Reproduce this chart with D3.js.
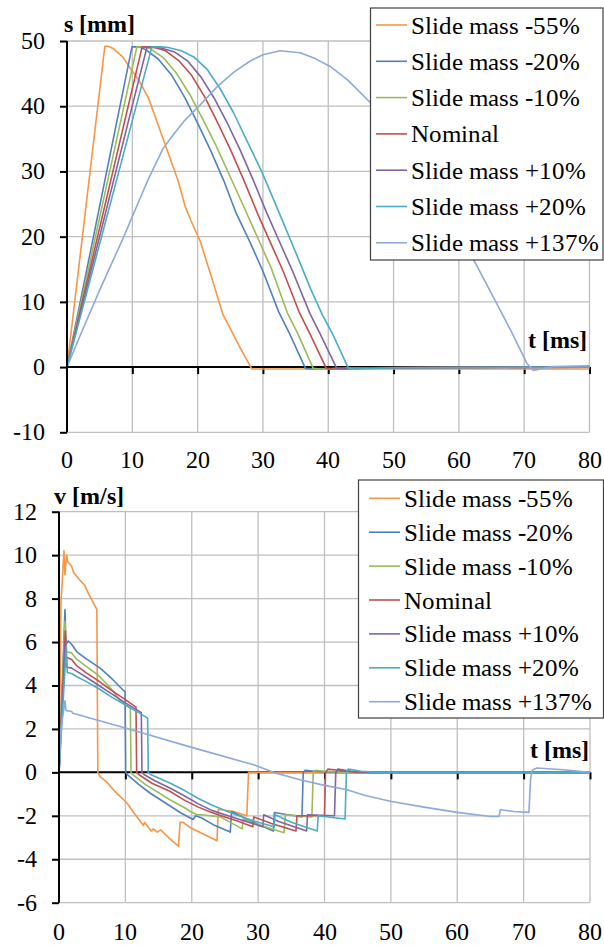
<!DOCTYPE html>
<html>
<head>
<meta charset="utf-8">
<script src="https://cdn.jsdelivr.net/npm/d3@7"></script>
<style>
  @font-face { font-family: "ChartSerif"; font-weight: 400; src: local("Liberation Serif"), local("LiberationSerif"), local("LiberationSerif-Regular"); }
  @font-face { font-family: "ChartSerif"; font-weight: 700; src: local("Liberation Serif Bold"), local("LiberationSerif-Bold"); }
  body { margin: 0; background: #fff; }
  svg { display: block; font-family: "ChartSerif", "Times New Roman", "Liberation Serif", serif; }
</style>
</head>
<body>
<svg id="chart" width="604" height="945"></svg>
<script>
// ---- tick labels ----
const tTicks = [0, 10, 20, 30, 40, 50, 60, 70, 80];
const sTicks = [-10, 0, 10, 20, 30, 40, 50];
const vTicks = [-6, -4, -2, 0, 2, 4, 6, 8, 10, 12];

// ---- series names (legend order) ----
const seriesNames = ["Slide mass -55%", "Slide mass -20%", "Slide mass -10%", "Nominal",
                     "Slide mass +10%", "Slide mass +20%", "Slide mass +137%"];

// ---- displacement s [mm] vs t [ms] ----
const sM55 = [[0,0],[5.8,49.2],[6.3,49.2],[7,48.9],[8.5,47.6],[9.5,46.1],[11,44],[12.5,41.2],[14,37],[15,34.2],[16,31.4],[17,28.6],[18.1,24.6],[19,22.4],[20.4,19.3],[22,14.2],[23.9,8],[25,5.9],[26.5,3],[28.3,-0.3],[80,-0.3]];
const sM20 = [[0,0],[9.95,49.1],[11,49.1],[12,48.7],[14,47.2],[16,44.8],[18,41.4],[20,37.4],[22,33.2],[24,28.6],[25.9,23.6],[28,19.2],[30,14.7],[32.4,8.5],[34,5.3],[36.5,-0.2],[37.5,-0.3],[45,-0.1],[80,0]];
const sM10 = [[0,0],[10.7,49.1],[11.8,49.1],[12.8,48.8],[14.8,47.4],[16.8,45.0],[18.8,41.8],[20.8,38.0],[22.8,34.0],[24.8,29.6],[27.6,23.4],[29.3,19.6],[31.3,15.1],[33.7,8.4],[35.3,5.2],[37.7,-0.2],[38.7,-0.3],[46,-0.1],[80,0]];
const sNom = [[0,0],[11.5,49.1],[12.8,49.1],[13.8,48.9],[15.1,48.5],[17.1,47.0],[19.1,44.7],[21.1,41.4],[23.1,37.4],[25.1,33.2],[27.1,28.6],[29.2,23.5],[31.1,19.2],[33.1,14.7],[35.6,8.3],[37.2,5.1],[39.7,-0.2],[40.7,-0.3],[47,-0.1],[80,0]];
const sP10 = [[0,0],[12.25,49.1],[13.5,49.1],[14.5,48.9],[16.5,48.3],[18.5,46.9],[20.5,44.5],[22.5,41.3],[24.5,37.5],[26.5,33.3],[28.5,28.7],[30.6,23.6],[32.5,19.3],[34.5,14.8],[37.2,8.2],[38.7,5.2],[41.3,-0.2],[42.3,-0.3],[48,-0.1],[80,0]];
const sP20 = [[0,0],[13.0,49.1],[14.5,49.1],[15.5,49.0],[17.5,48.5],[19.5,47.5],[21.5,45.6],[23.5,42.6],[25.5,39.0],[27.5,34.8],[29.8,30.0],[31.8,25.3],[32.5,23.6],[35.3,16.9],[37.3,12.0],[39.1,8.0],[40.7,5.0],[43.1,-0.2],[44.1,-0.3],[50,-0.1],[80,0]];
const sP137 = [[0,0],[2,4.8],[5,11.8],[8.7,20],[10.9,25.2],[12.4,28.7],[14.7,33.5],[16.1,35.4],[18,37.8],[20.4,40.2],[23,43],[25.5,45.2],[28,46.9],[30,47.9],[32.6,48.5],[35.7,48.2],[38,47.3],[40.3,46.1],[43,44],[46.4,40.6],[50,36],[54,30.5],[57,25.8],[60,20.5],[62.5,16],[65.5,10.3],[68,5.5],[70.4,0.6],[71.4,-0.5],[72.5,-0.3],[74.5,0.1],[80,0.2]];

// ---- velocity v [m/s] vs t [ms] ----
const vM55 = [[0,0],[0.3,7.8],[0.75,10.2],[0.9,9.1],[1.15,10.0],[1.3,9.7],[1.9,9.5],[2.2,9.2],[3.0,8.9],[3.9,8.6],[4.4,8.25],[5.7,7.5],[5.85,0],[6.2,-0.2],[7.2,-0.45],[8.5,-0.9],[10.2,-1.4],[11.5,-1.95],[12.5,-2.35],[12.7,-2.45],[12.9,-2.3],[13.5,-2.55],[13.9,-2.7],[14.2,-2.6],[14.8,-2.75],[15.3,-2.65],[16.5,-3.0],[18.0,-3.4],[18.25,-2.3],[18.7,-2.3],[19.8,-2.55],[21.5,-2.8],[23.8,-3.15],[24.0,-1.7],[26.3,-1.8],[28.3,-2.0],[28.55,0],[80,0]];
const vM20 = [[0,0],[0.9,7.5],[1.05,5.9],[1.4,6.05],[1.9,5.9],[2.7,5.55],[4,5.25],[6.2,4.8],[8,4.3],[9.95,3.7],[10.05,0],[10.3,-0.1],[12,-0.55],[13.7,-0.95],[16.8,-1.56],[18.3,-1.86],[20.2,-2.17],[20.6,-2.0],[21.5,-2.1],[23.5,-2.45],[25.8,-2.75],[26.0,-1.8],[28,-2.1],[30,-2.4],[32.3,-2.7],[32.45,-1.85],[34.5,-1.95],[36.6,-2.05],[36.8,0],[37.1,0.1],[38.5,0.05],[42,0],[80,0]];
const vM10 = [[0,0],[0.9,6.95],[1.1,5.55],[1.9,5.5],[2.7,5.2],[4,4.9],[6,4.45],[8,3.8],[9.2,3.3],[10.75,2.95],[10.85,0],[11.1,-0.1],[13,-0.55],[16.7,-1.26],[19,-1.64],[19.8,-1.8],[20.8,-1.95],[21.5,-1.95],[24.3,-2.05],[27.6,-2.6],[27.75,-2.15],[30,-2.4],[33.9,-2.78],[34.1,-1.95],[38.1,-2.05],[38.3,0],[38.6,0.1],[40,0.05],[43,0],[80,0]];
const vNom = [[0,0],[0.95,6.5],[1.1,5.3],[1.9,5.2],[2.7,4.9],[4,4.6],[6,4.2],[8,3.75],[10,3.35],[11.6,3.0],[11.7,0],[12.0,-0.1],[14,-0.5],[16.7,-0.87],[19,-1.3],[21,-1.6],[23,-1.85],[25,-2.05],[27,-2.25],[29.2,-2.5],[29.35,-2.05],[32,-2.35],[35.7,-2.7],[35.85,-2.0],[40.0,-2.0],[40.15,0],[40.5,0.15],[42,0.1],[45,0],[80,0]];
const vP10 = [[0,0],[1.0,6.1],[1.15,4.85],[1.9,4.8],[2.7,4.65],[4,4.4],[6,4.0],[8,3.6],[10,3.2],[12.4,2.75],[12.5,0],[12.8,-0.1],[14.5,-0.4],[16.7,-0.72],[19,-1.1],[21,-1.45],[23,-1.75],[25,-1.95],[27,-2.15],[30.7,-2.5],[30.85,-1.95],[33,-2.25],[37.3,-2.7],[37.45,-1.95],[41.5,-2.0],[41.7,0],[42,0.15],[44,0.05],[47,0],[80,0]];
const vP20 = [[0,0],[1.1,5.8],[1.25,4.6],[1.9,4.55],[2.7,4.4],[4,4.2],[6,3.85],[8,3.45],[10,3.1],[12,2.75],[13.35,2.5],[13.45,0],[13.8,-0.1],[16.7,-0.49],[19,-0.85],[21,-1.2],[23,-1.5],[25,-1.75],[28,-2.1],[30,-2.3],[32.4,-2.5],[32.55,-1.95],[35,-2.3],[38.9,-2.7],[39.05,-2.0],[43.1,-2.15],[43.3,0],[43.6,0.15],[45.5,0.05],[48,0],[80,0]];
const vP137 = [[0,0],[0.3,2.0],[0.9,3.3],[1.05,2.85],[1.9,2.8],[2.1,2.72],[10,2.04],[20,1.15],[29.3,0.35],[32.3,0],[36.3,-0.34],[40,-0.6],[43.4,-0.8],[46,-1.05],[49.9,-1.33],[55,-1.6],[60,-1.84],[65,-2.03],[66.3,-2.03],[66.5,-1.72],[68.5,-1.8],[70.8,-1.84],[71.05,-0.3],[71.3,0.1],[72,0.2],[76,0.12],[80,0]];

const sSeries = [sM55, sM20, sM10, sNom, sP10, sP20, sP137];
const vSeries = [vM55, vM20, vM10, vNom, vP10, vP20, vP137];

// line colours per series
const palette = ["#F79646", "#4F81BD", "#9BBB59", "#C0504D", "#8064A2", "#4BACC6", "#8EA9DB"];

const svg = d3.select("#chart");

function drawPanel(cfg) {
  const g = svg.append("g");
  const x = d3.scaleLinear().domain([0, 80]).range([cfg.left, cfg.right]);
  const y = d3.scaleLinear().domain(cfg.yDomain).range([cfg.bottom, cfg.top]);

  // gridlines
  g.append("g").selectAll("line").data(tTicks).join("line")
    .attr("x1", d => x(d)).attr("x2", d => x(d))
    .attr("y1", cfg.top).attr("y2", cfg.bottom)
    .attr("stroke", "#BFBFBF").attr("stroke-width", 1.3);
  g.append("g").selectAll("line").data(cfg.yTicks).join("line")
    .attr("x1", cfg.left).attr("x2", cfg.right)
    .attr("y1", d => y(d)).attr("y2", d => y(d))
    .attr("stroke", "#BFBFBF").attr("stroke-width", 1.3);

  // zero axis with downward ticks
  const xAxis = d3.axisBottom(x).tickValues(tTicks.slice(1)).tickSize(7).tickFormat("");
  const xa = g.append("g").attr("transform", `translate(0,${y(0)})`).call(xAxis)
    .attr("font-family", null).attr("font-size", null);
  xa.selectAll(".tick text").remove();
  xa.select(".domain").attr("d", `M${cfg.left},0H${cfg.right}`).attr("stroke", "#000").attr("stroke-width", 2);
  xa.selectAll(".tick line").attr("stroke", "#000").attr("stroke-width", 2);

  // series
  const line = d3.line().x(d => x(d[0])).y(d => y(d[1]));
  g.append("g").selectAll("path").data(cfg.series).join("path")
    .attr("d", line)
    .attr("fill", "none")
    .attr("stroke", (d, i) => palette[i])
    .attr("stroke-width", 1.6)
    .attr("stroke-linejoin", "round");

  // y axis (ticks only; labels are set below)
  const yAxis = d3.axisLeft(y).tickValues(cfg.yTicks).tickSize(7).tickFormat("");
  const ya = g.append("g").attr("transform", `translate(${cfg.left},0)`).call(yAxis)
    .attr("font-family", null).attr("font-size", null);
  ya.selectAll(".tick text").remove();
  ya.select(".domain").attr("d", `M0,${cfg.top}V${cfg.bottom}`).attr("stroke", "#000").attr("stroke-width", 2);
  ya.selectAll(".tick line").attr("stroke", "#000").attr("stroke-width", 2);

  // y tick labels
  g.append("text").attr("font-size", 24).attr("text-anchor", "end").attr("fill", "#000")
    .selectAll("tspan").data(cfg.yTicks).join("tspan")
    .attr("x", cfg.left - 7 - cfg.yPad).attr("y", d => y(d) + 8)
    .text(d => d);

  // t tick labels along the bottom
  g.append("text").attr("font-size", 24).attr("text-anchor", "middle").attr("fill", "#000")
    .selectAll("tspan").data(tTicks).join("tspan")
    .attr("x", d => x(d)).attr("y", cfg.xLabelY)
    .text(d => d);

  // axis titles
  g.append("text").attr("x", cfg.yTitle[0]).attr("y", cfg.yTitle[1])
    .attr("font-size", 24).attr("font-weight", "bold").attr("fill", "#000")
    .text(cfg.yTitleText);
  g.append("text").attr("x", cfg.tTitle[0]).attr("y", cfg.tTitle[1])
    .attr("font-size", 24).attr("font-weight", "bold").attr("fill", "#000")
    .attr("text-anchor", "end").text("t [ms]");

  // legend
  const L = cfg.legend;
  const lg = g.append("g");
  lg.append("rect").attr("x", L.x).attr("y", L.y).attr("width", L.w).attr("height", L.h)
    .attr("fill", "#fff").attr("stroke", "#404040").attr("stroke-width", 1.2);
  lg.append("g").selectAll("line").data(seriesNames).join("line")
    .attr("x1", L.lx1).attr("x2", L.lx2)
    .attr("y1", (d, i) => L.first + i * L.step).attr("y2", (d, i) => L.first + i * L.step)
    .attr("stroke", (d, i) => palette[i]).attr("stroke-width", 1.6);
  lg.append("text").attr("font-size", 25).attr("fill", "#000")
    .selectAll("tspan").data(seriesNames).join("tspan")
    .attr("x", L.tx).attr("y", (d, i) => L.first + i * L.step + 8.5)
    .text(d => d);
}

// velocity panel
drawPanel({
  left: 59, right: 590, top: 511.7, bottom: 902.7,
  yDomain: [-6, 12], yTicks: vTicks, yPad: 15,
  series: vSeries, xLabelY: 940,
  yTitle: [54, 503.5], yTitleText: "v [m/s]",
  tTitle: [589, 758],
  legend: { x: 358.5, y: 480, w: 245, h: 238, first: 498.3, step: 33.9, lx1: 369, lx2: 400, tx: 404 }
});

// displacement panel
drawPanel({
  left: 67, right: 589.5, top: 41, bottom: 432.3,
  yDomain: [-10, 50], yTicks: sTicks, yPad: 15,
  series: sSeries, xLabelY: 468,
  yTitle: [64, 32], yTitleText: "s [mm]",
  tTitle: [587, 348],
  legend: { x: 370.5, y: 8, w: 232.5, h: 252, first: 25, step: 36.3, lx1: 376, lx2: 407, tx: 411 }
});
</script>
</body>
</html>
